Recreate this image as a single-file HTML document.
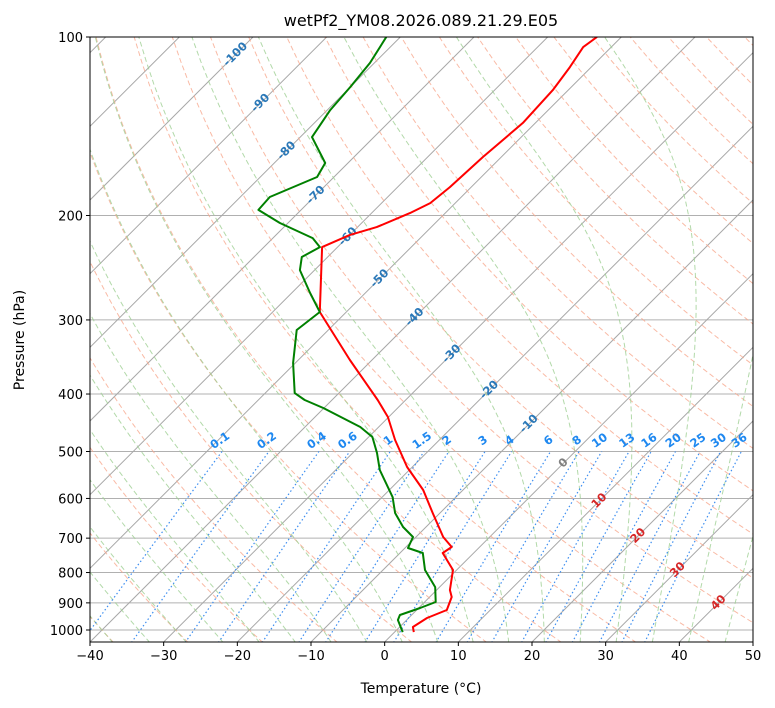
<!DOCTYPE html>
<html><head><meta charset="utf-8"><style>
body{margin:0;background:#fff;}
svg{display:block;font-family:"DejaVu Sans","Liberation Sans",sans-serif;}
</style></head><body>
<svg id="chart" width="775" height="708" viewBox="0 0 775 708">
<defs><clipPath id="plotclip"><rect x="90" y="37" width="663" height="605"/></clipPath></defs>
<rect x="0" y="0" width="775" height="708" fill="#fff"/>
<text x="421" y="26" text-anchor="middle" font-size="16" fill="#000">wetPf2_YM08.2026.089.21.29.E05</text>
<g id="grid" clip-path="url(#plotclip)"></g>
<g id="axes"></g>
<text x="421" y="693" text-anchor="middle" font-size="14" fill="#000">Temperature (°C)</text>
<text x="24" y="340" text-anchor="middle" font-size="14" fill="#000" transform="rotate(-90 24 340)">Pressure (hPa)</text>
</svg>
<script>
const tempP = [100,104,112.4,122.9,139.6,159.4,179.1,190.6,198.1,209.2,215.8,226.1,290.9,350.5,409.4,437.3,478.2,531.1,580.6,634.8,697,724.4,741.6,792.1,856.2,879.8,925.4,954.6,988.4,1008];
const tempC = [-53.3,-53.8,-52.9,-52.1,-51.7,-52.5,-52.9,-53.4,-54.8,-57.4,-60.0,-62.1,-53.6,-43.0,-33.8,-30.1,-26.0,-20.7,-15.4,-11.0,-6.3,-3.8,-4.2,-0.5,1.8,3.0,4.1,2.5,1.8,2.6];
const dewP = [100,110.6,121.4,132.8,147.5,163.1,172.2,186.1,195.7,205.9,218.3,226.1,235,247.2,270.2,290.9,311.9,354.6,398.6,409.4,422.3,454.6,472.6,502.9,537.3,596.8,634.8,670.4,697,727.3,741.6,792.1,846.4,897.1,918.3,943.3,961.8,1008];
const dewC = [-81.9,-80.6,-80.0,-79.6,-78.4,-73.1,-72.3,-76.0,-75.8,-71.1,-64.6,-62.4,-63.5,-62.0,-57.5,-53.6,-54.3,-50.3,-46.0,-43.7,-40.1,-32.5,-29.5,-26.7,-24.0,-18.6,-16.1,-13.1,-10.4,-9.6,-6.9,-4.3,-0.6,1.5,0.2,-1.6,-1.2,1.1];
const xTicks = [-40,-30,-20,-10,0,10,20,30,40,50];
const yTicks = [100,200,300,400,500,600,700,800,900,1000];
const isoLabels = [-100,-90,-80,-70,-60,-50,-40,-30,-20,-10,0,10,20,30,40];
const isoLabelP = [106,128,154,183,215,253,294,339,390,445,518,600,687,784,891];
const mixRatios = [0.1,0.2,0.4,0.6,1,1.5,2,3,4,6,8,10,13,16,20,25,30,36];

const NS="http://www.w3.org/2000/svg";
const X0=90,X1=753,Y0=37,Y1=642,PX=663/90;
function yOf(p){return Y0+593*Math.log10(p/100);}
function xOf(t,p){return X0+(t+40)*PX+(Y1-yOf(p));}
function mk(tag,attrs,parent){const e=document.createElementNS(NS,tag);for(const k in attrs)e.setAttribute(k,attrs[k]);parent.appendChild(e);return e;}
const grid=document.getElementById('grid'), axes=document.getElementById('axes');
function pts(ps,ts){return ps.map((p,i)=>xOf(ts[i],p).toFixed(1)+','+yOf(p).toFixed(1)).join(' ');}
const pLev=[];for(let p=1050;p>=100;p-=10)pLev.push(p);

yTicks.forEach(p=>{const l=mk('line',{x1:X0,x2:X1,y1:yOf(p),y2:yOf(p),stroke:'#b0b0b0','stroke-width':1},grid);

});
for(let t=-160;t<=50;t+=10){const l=mk('line',{x1:xOf(t,1050),y1:yOf(1050),x2:xOf(t,100),y2:yOf(100),stroke:'#a8a8a8','stroke-width':1},grid);

}
for(let t0=-40;t0<=200;t0+=10){const th=t0+273.15;const ts=pLev.map(p=>th*Math.pow(p/1000,0.2857)-273.15);
const l=mk('polyline',{points:pts(pLev,ts),fill:'none',stroke:'#f7a98f','stroke-width':1,'stroke-dasharray':'5,3','stroke-opacity':0.8},grid);

}
function es(tc){return 6.112*Math.exp(17.67*tc/(tc+243.5));}
function dTdp(T,p){const e=es(T-273.15);const rs=0.622*e/(p-e);return (287.04*T+2.501e6*rs)/(p*(1005.7+2.501e6*2.501e6*rs*0.622/(287.04*T*T)));}
for(let t0=-40;t0<=50;t0+=5){const ps=[],ts=[];let T=t0+273.15;
 let Td=T;for(let p=1000;p<1050;p+=1){Td+=dTdp(Td,p)*1;}ps.push(1050);ts.push(Td-273.15);
 T=Td;for(let p=1050;p>=100;p-=1){if(p%10===0&&p!==1050){ps.push(p);ts.push(T-273.15);}const k1=dTdp(T,p);const k2=dTdp(T-k1*0.5,p-0.5);T-=k2;}
 const l=mk('polyline',{points:pts(ps,ts),fill:'none',stroke:'#9fcf94','stroke-width':1,'stroke-dasharray':'5,3','stroke-opacity':0.8},grid);
 
 }
const mixP=[];for(let p=1050;p>=500;p-=10)mixP.push(p);
mixRatios.forEach(w=>{const ts=mixP.map(p=>{const e=w*p/(622+w);const L=Math.log(e/6.112);return 243.5*L/(17.67-L);});
const l=mk('polyline',{points:pts(mixP,ts),fill:'none',stroke:'#3d8ef0','stroke-width':1.2,'stroke-dasharray':'1.5,2.5'},grid);


const e5=w*500/(622+w),L5=Math.log(e5/6.112),t5=243.5*L5/(17.67-L5);const lx=xOf(t5,500),ly=yOf(500)-8;
const tx=mk('text',{x:lx,y:ly,'text-anchor':'middle','font-size':11.5,'font-weight':'bold',fill:'#1e88f0',transform:`rotate(-35 ${lx} ${ly})`},grid);tx.textContent=String(w);

});
isoLabels.forEach((t,i)=>{const p=isoLabelP[i];const lx=xOf(t,p)-3,ly=yOf(p)+6;const col=t<0?'#2a78b8':(t===0?'#808080':'#d62728');
const tx=mk('text',{x:lx,y:ly,'text-anchor':'middle','font-size':11.5,'font-weight':'bold',fill:col,transform:`rotate(-45 ${lx} ${ly-4})`},grid);tx.textContent=String(t);

});
const tl=mk('polyline',{points:pts(tempP,tempC),fill:'none',stroke:'#ff0000','stroke-width':2,'stroke-linejoin':'round'},grid);


const dl=mk('polyline',{points:pts(dewP,dewC),fill:'none',stroke:'#008000','stroke-width':2,'stroke-linejoin':'round'},grid);


const fr=mk('rect',{x:X0,y:Y0,width:X1-X0,height:Y1-Y0,fill:'none',stroke:'#000','stroke-width':1},axes);


xTicks.forEach(t=>{const x=X0+(t+40)*PX;mk('line',{x1:x,x2:x,y1:Y1,y2:Y1+4,stroke:'#000'},axes);
const tx=mk('text',{x:x,y:Y1+18,'text-anchor':'middle','font-size':13,fill:'#000'},axes);tx.textContent=t<0?'\u2212'+(-t):String(t);

});
yTicks.forEach(p=>{const y=yOf(p);mk('line',{x1:X0-4,x2:X0,y1:y,y2:y,stroke:'#000'},axes);
const tx=mk('text',{x:X0-7,y:y+5,'text-anchor':'end','font-size':13,fill:'#000'},axes);tx.textContent=String(p);

});
</script>
</body></html>
